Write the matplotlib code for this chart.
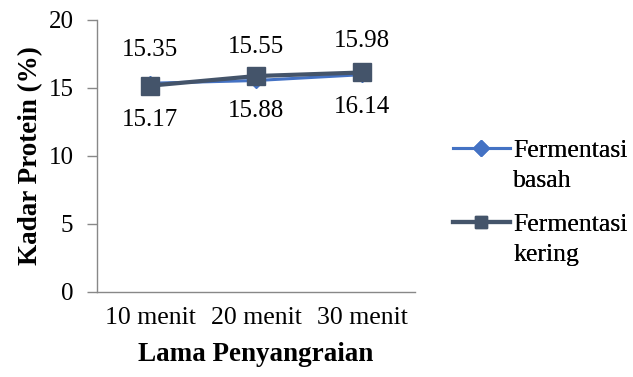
import matplotlib
matplotlib.use("Agg")
import matplotlib.pyplot as plt
from matplotlib.lines import Line2D

categories = ["10 menit", "20 menit", "30 menit"]
basah = [15.35, 15.55, 15.98]
kering = [15.17, 15.88, 16.14]
series_names = [("Fermentasi", "basah"), ("Fermentasi", "kering")]
y_ticks = [0, 5, 10, 15, 20]

plt.rcParams["font.family"] = ["Liberation Serif", "DejaVu Serif"]

fig = plt.figure(figsize=(6.33, 3.77), dpi=100)
ax = fig.add_axes([97 / 633, (377 - 292) / 377, (415 - 97) / 633, (292 - 20) / 377])

c_basah = "#4472C4"
c_kering = "#44546A"
x = list(range(len(categories)))

ax.plot(x, basah, color=c_basah, lw=2.2, marker="D", ms=7.5, zorder=3)
ax.plot(x, kering, color=c_kering, lw=3, marker="s", ms=13, zorder=4)

for xi, v in zip(x, basah):
    ax.annotate(f"{v:.2f}", (xi, v), xytext=(0, 16), textcoords="offset points",
                ha="center", va="bottom", fontsize=18)
for xi, v in zip(x, kering):
    ax.annotate(f"{v:.2f}", (xi, v), xytext=(0, -17), textcoords="offset points",
                ha="center", va="top", fontsize=18)

ax.set_xlim(-0.5, 2.5)
ax.set_ylim(0, 20)
ax.set_yticks(y_ticks)
ax.set_xticks(x)
ax.set_xticklabels(categories)
ax.tick_params(axis="y", direction="out", length=7, width=1, color="#888888", labelsize=18, pad=10)
ax.tick_params(axis="x", length=0, labelsize=18.5, pad=11)

for s in ["top", "right"]:
    ax.spines[s].set_visible(False)
for s in ["left", "bottom"]:
    ax.spines[s].set_color("#888888")
    ax.spines[s].set_linewidth(1)

ax.set_ylabel("Kadar Protein (%)", fontsize=19.5, fontweight="bold", labelpad=4)
ax.set_xlabel("Lama Penyangraian", fontsize=19.5, fontweight="bold", labelpad=9)

blank = Line2D([], [], color="none")
handles = [
    Line2D([], [], color=c_basah, lw=2.2, marker="D", ms=8),
    Line2D([], [], color=c_kering, lw=3, marker="s", ms=9),
]
tops = [139, 213]
for h, (l1, l2), top in zip(handles, series_names, tops):
    leg = fig.legend([h, blank], [l1, l2], loc="upper left",
                     bbox_to_anchor=(453 / 633, 1 - top / 377),
                     frameon=False, fontsize=18.5, handlelength=2.2, handletextpad=0.15,
                     labelspacing=0.28, borderpad=0, borderaxespad=0)
    fig.add_artist(leg)

fig.savefig("out.png", dpi=100)
